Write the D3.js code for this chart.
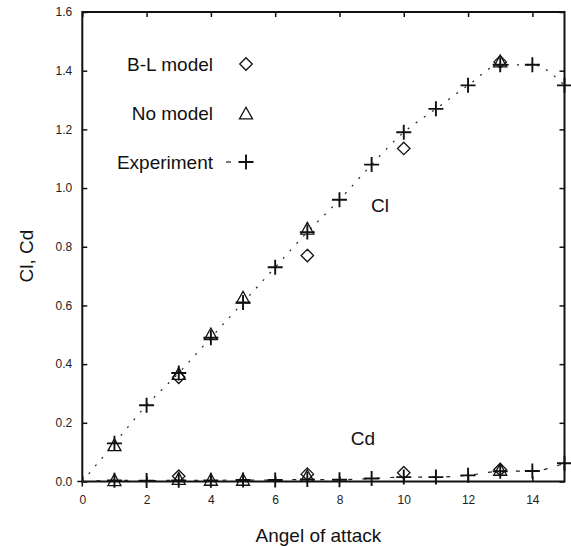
<!DOCTYPE html>
<html>
<head>
<meta charset="utf-8">
<script src="https://cdn.jsdelivr.net/npm/d3@7/dist/d3.min.js"></script>
<style>
  html, body { margin: 0; padding: 0; background: #fff; }
  svg { display: block; font-family: "Liberation Sans", Arial, Helvetica, sans-serif; }
</style>
</head>
<body>
<svg id="chart" width="571" height="546"></svg>
<script>
// Experimental lift / drag coefficients vs angle of attack
const expAngles = [1, 2, 3, 4, 5, 6, 7, 8, 9, 10, 11, 12, 13, 14, 15];
const expCl = [0.13, 0.26, 0.37, 0.49, 0.61, 0.73, 0.85, 0.96, 1.08, 1.19, 1.27, 1.35, 1.42, 1.42, 1.35];
const expCd = [0.004, 0.003, 0.004, 0.004, 0.005, 0.005, 0.007, 0.006, 0.010, 0.015, 0.015, 0.021, 0.035, 0.036, 0.062];

// Computations with the Baldwin-Lomax turbulence model
const blAngles = [3, 7, 10, 13];
const blCl = [0.355, 0.77, 1.135, 1.43];
const blCd = [0.018, 0.025, 0.030, 0.041];

// Computations without a turbulence model
const nmAngles = [1, 3, 4, 5, 7, 13];
const nmCl = [0.122, 0.365, 0.50, 0.625, 0.86, 1.43];
const nmCd = [0.003, 0.007, 0.004, 0.004, 0.017, 0.038];

const xTicks = [0, 2, 4, 6, 8, 10, 12, 14];
const yTicks = [0.0, 0.2, 0.4, 0.6, 0.8, 1.0, 1.2, 1.4, 1.6];
const legendLabels = ["B-L model", "No model", "Experiment"];

const svg = d3.select("#chart");
const plotL = 82.3, plotT = 12, plotR = 564.5, plotB = 481.5;

const x = d3.scaleLinear().domain([0, 15]).range([plotL, plotR]);
const y = d3.scaleLinear().domain([0, 1.6]).range([plotB, plotT]);

// custom glyphs: thin plus, open diamond, open triangle
const plusType = {
  draw(ctx, size) {
    const r = Math.sqrt(size) / 2;
    ctx.moveTo(-r, 0); ctx.lineTo(r, 0);
    ctx.moveTo(0, -r); ctx.lineTo(0, r);
  }
};
const diamondType = {
  draw(ctx, size) {
    const r = Math.sqrt(size) / 2;
    ctx.moveTo(0, -r); ctx.lineTo(r, 0); ctx.lineTo(0, r); ctx.lineTo(-r, 0); ctx.closePath();
  }
};
const triangleType = {
  draw(ctx, size) {
    const w = Math.sqrt(size) / 2;
    const h = w * 1.8;
    ctx.moveTo(0, -h * 0.58); ctx.lineTo(w, h * 0.42); ctx.lineTo(-w, h * 0.42); ctx.closePath();
  }
};
const plusSym = d3.symbol().type(plusType).size(15 * 15);
const diamondSym = d3.symbol().type(diamondType).size(12.5 * 12.5);
const triangleSym = d3.symbol().type(triangleType).size(13 * 13);

const axisFont = g => g.selectAll("text").attr("font-size", 12).attr("fill", "#222")
  .attr("font-family", "'Liberation Sans', Arial, sans-serif");
const tickStroke = g => g.selectAll("line").attr("stroke", "#111").attr("stroke-width", 1.5);

// axes, ticks pointing inward
svg.append("g").attr("transform", `translate(0,${plotB})`)
  .call(d3.axisBottom(x).tickValues(xTicks).tickSize(-5).tickPadding(14).tickFormat(d3.format("d")))
  .call(g => g.select(".domain").remove())
  .call(tickStroke).call(axisFont);

svg.append("g").attr("transform", `translate(0,${plotT})`)
  .call(d3.axisTop(x).tickValues(xTicks).tickSize(-5).tickFormat(""))
  .call(g => g.select(".domain").remove())
  .call(tickStroke);

svg.append("g").attr("transform", `translate(${plotL},0)`)
  .call(d3.axisLeft(y).tickValues(yTicks).tickSize(-5).tickPadding(10).tickFormat(d3.format(".1f")))
  .call(g => g.select(".domain").remove())
  .call(tickStroke).call(axisFont);

svg.append("g").attr("transform", `translate(${plotR},0)`)
  .call(d3.axisRight(y).tickValues(yTicks).tickSize(-5).tickFormat(""))
  .call(g => g.select(".domain").remove())
  .call(tickStroke);

// small outward stubs at the origin
svg.append("line").attr("x1", x(0) - 5).attr("x2", x(0)).attr("y1", y(0)).attr("y2", y(0))
  .attr("stroke", "#111").attr("stroke-width", 1.5);
svg.append("line").attr("x1", x(0)).attr("x2", x(0)).attr("y1", y(0)).attr("y2", y(0) + 5)
  .attr("stroke", "#111").attr("stroke-width", 1.5);

// frame
svg.append("rect").attr("x", plotL).attr("y", plotT)
  .attr("width", plotR - plotL).attr("height", plotB - plotT)
  .attr("fill", "none").attr("stroke", "#111").attr("stroke-width", 2);

// experiment curves, starting from the origin
const clPts = [[0, 0]].concat(expAngles.map((a, i) => [a, expCl[i]]));
const cdPts = [[0, 0]].concat(expAngles.map((a, i) => [a, expCd[i]]));
const line = d3.line().x(d => x(d[0])).y(d => y(d[1])).curve(d3.curveMonotoneX);

svg.append("path").attr("d", line(clPts)).attr("fill", "none")
  .attr("stroke", "#222").attr("stroke-width", 1.2).attr("stroke-dasharray", "2,8");
svg.append("path").attr("d", line(cdPts)).attr("fill", "none")
  .attr("stroke", "#222").attr("stroke-width", 1.2).attr("stroke-dasharray", "4,10");

// markers
function drawMarkers(angles, values, sym, sw) {
  svg.append("g").selectAll("path").data(angles).join("path")
    .attr("d", sym)
    .attr("transform", (a, i) => `translate(${x(a)},${y(values[i])})`)
    .attr("fill", "none").attr("stroke", "#111").attr("stroke-width", sw);
}
drawMarkers(nmAngles, nmCl, triangleSym, 1.3);
drawMarkers(nmAngles, nmCd, triangleSym, 1.3);
drawMarkers(blAngles, blCl, diamondSym, 1.3);
drawMarkers(blAngles, blCd, diamondSym, 1.3);
drawMarkers(expAngles, expCl, plusSym, 1.9);
drawMarkers(expAngles, expCd, plusSym, 1.9);

// legend
const big = 19;
const legY = [64, 113, 162];
const legSyms = [diamondSym, triangleSym, plusSym];
legendLabels.forEach((t, i) => {
  svg.append("text").attr("x", 213).attr("y", legY[i]).attr("dy", "0.35em")
    .attr("text-anchor", "end").attr("font-size", big).attr("fill", "#111").text(t);
  svg.append("path").attr("d", legSyms[i]())
    .attr("transform", `translate(246,${legY[i] + (i === 1 ? 1 : 0)})`)
    .attr("fill", "none").attr("stroke", "#111").attr("stroke-width", i === 2 ? 1.9 : 1.3);
});
svg.append("line").attr("x1", 226).attr("x2", 231).attr("y1", legY[2]).attr("y2", legY[2])
  .attr("stroke", "#222").attr("stroke-width", 1.2);

// curve labels
svg.append("text").attr("x", 380).attr("y", 205).attr("dy", "0.35em").attr("text-anchor", "middle")
  .attr("font-size", big).attr("fill", "#111").text("Cl");
svg.append("text").attr("x", 363).attr("y", 438).attr("dy", "0.35em").attr("text-anchor", "middle")
  .attr("font-size", big).attr("fill", "#111").text("Cd");

// axis titles
svg.append("text").attr("x", (plotL + plotR) / 2 - 5).attr("y", 535).attr("dy", "0.35em")
  .attr("text-anchor", "middle").attr("font-size", big).attr("fill", "#111").text("Angel of attack");
svg.append("text").attr("transform", "translate(26,256) rotate(-90)").attr("dy", "0.35em")
  .attr("text-anchor", "middle").attr("font-size", big).attr("fill", "#111").text("Cl, Cd");
</script>
</body>
</html>
